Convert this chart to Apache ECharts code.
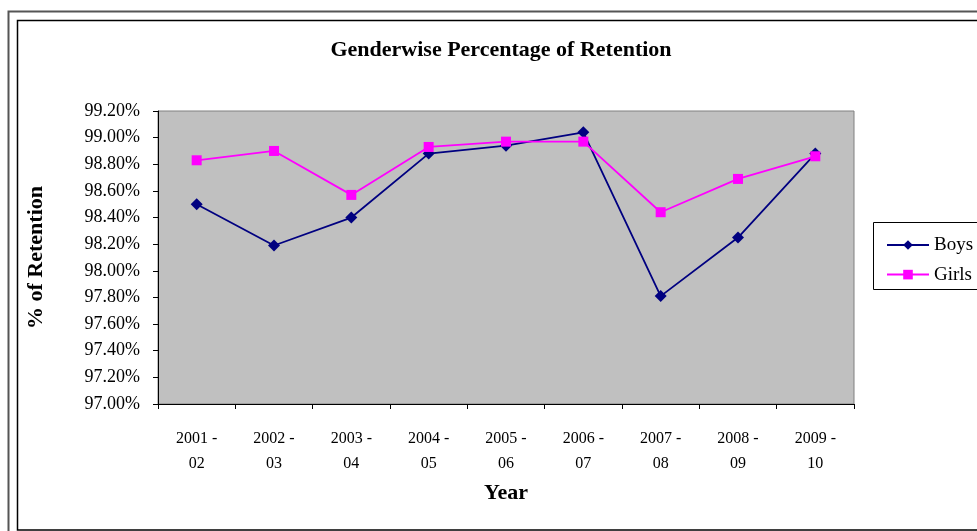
<!DOCTYPE html>
<html><head><meta charset="utf-8">
<script src="https://cdn.jsdelivr.net/npm/echarts@6/dist/echarts.min.js"></script>
<style>html,body{margin:0;padding:0;background:#fff}#c{width:977px;height:531px}</style>
</head><body><div id="c"></div>
<script>
const categories = ["2001 -\n02","2002 -\n03","2003 -\n04","2004 -\n05","2005 -\n06","2006 -\n07","2007 -\n08","2008 -\n09","2009 -\n10"];
const boys  = [98.50, 98.19, 98.40, 98.88, 98.94, 99.04, 97.81, 98.25, 98.88];
const girls = [98.83, 98.90, 98.57, 98.93, 98.97, 98.97, 98.44, 98.69, 98.86];
const yTicks = {min: 97.0, max: 99.2, interval: 0.2};
const serif = '"Liberation Serif","Times New Roman",serif';

const chart = echarts.init(document.getElementById('c'));
chart.setOption({
  animation: false,
  backgroundColor: '#fff',
  title: {
    text: 'Genderwise Percentage of Retention',
    left: 496, top: 34, textAlign: 'center',
    textStyle: {fontFamily: serif, fontSize: 22, fontWeight: 'bold', color: '#000'}
  },
  graphic: [
    {type: 'rect', shape: {x: 8.5, y: 11.5, width: 1000, height: 540}, style: {fill: 'none', stroke: '#555', lineWidth: 2}, silent: true},
    {type: 'rect', shape: {x: 17.5, y: 20.5, width: 1000, height: 509.5}, style: {fill: 'none', stroke: '#000', lineWidth: 1.5}, silent: true},
    {type: 'rect', shape: {x: 873.5, y: 222.5, width: 200, height: 67}, style: {fill: '#fff', stroke: '#000', lineWidth: 1}, silent: true, z: 0}
  ],
  legend: {
    orient: 'vertical', left: 881, top: 230.5, itemWidth: 42, itemHeight: 12, itemGap: 10.6,
    textStyle: {fontFamily: serif, fontSize: 19, color: '#000'},
    data: ['Boys', 'Girls'], z: 10
  },
  grid: {
    left: 158, top: 111, width: 696, height: 293, show: true,
    backgroundColor: '#c0c0c0', borderColor: '#808080', borderWidth: 1
  },
  xAxis: {
    type: 'category', data: categories, boundaryGap: true,
    name: 'Year', nameLocation: 'middle', nameGap: 78,
    nameTextStyle: {fontFamily: serif, fontSize: 22, fontWeight: 'bold', color: '#000'},
    axisLine: {lineStyle: {color: '#000', width: 1}},
    axisTick: {show: true, length: 5, alignWithLabel: false, lineStyle: {color: '#000'}},
    axisLabel: {fontFamily: serif, fontSize: 16, color: '#000', lineHeight: 25, margin: 22, interval: 0},
    splitLine: {show: false}
  },
  yAxis: {
    type: 'value', min: yTicks.min, max: yTicks.max, interval: yTicks.interval,
    name: '% of Retention', nameLocation: 'middle', nameGap: 111, nameRotate: 90,
    nameTextStyle: {fontFamily: serif, fontSize: 22, fontWeight: 'bold', color: '#000'},
    axisLine: {show: true, lineStyle: {color: '#000', width: 1}},
    axisTick: {show: true, length: 5, lineStyle: {color: '#000'}},
    axisLabel: {fontFamily: serif, fontSize: 18, color: '#000', margin: 18,
      formatter: v => v.toFixed(2) + '%'},
    splitLine: {show: false}
  },
  series: [
    {name: 'Boys', type: 'line', data: boys, symbol: 'diamond', symbolSize: 12,
     itemStyle: {color: '#000080'}, lineStyle: {color: '#000080', width: 1.8}, z: 3},
    {name: 'Girls', type: 'line', data: girls, symbol: 'rect', symbolSize: 10,
     itemStyle: {color: '#ff00ff'}, lineStyle: {color: '#ff00ff', width: 1.8}, z: 4}
  ]
});
</script></body></html>
